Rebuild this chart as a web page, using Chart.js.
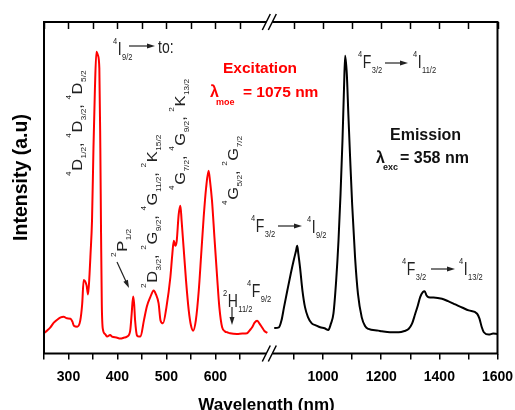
<!DOCTYPE html>
<html>
<head>
<meta charset="utf-8">
<script src="https://cdn.jsdelivr.net/npm/chart.js@4.4.0/dist/chart.umd.min.js"></script>
<style>
  html, body { margin: 0; padding: 0; background: #fff; }
</style>
</head>
<body>
<canvas id="myChart" width="515" height="410"></canvas>
<script>
// excitation spectrum, monitored at 1075 nm (red)
const exWave = [250, 257, 263, 270, 277, 284, 290, 297, 304, 308, 311, 318, 324, 328, 331, 337, 340, 343, 345, 348,
  351, 354, 357, 360, 363, 365, 366.5, 368, 370, 375, 379, 385, 389, 398, 406, 414, 420, 426, 429, 432,
  434, 436, 440, 444, 447, 454, 460, 467, 474, 478, 484, 488, 493, 500, 508, 512, 515, 518, 521, 525,
  528.5, 531, 535, 540, 545.5, 550, 554.5, 560, 566, 571, 576, 581, 586, 589, 593, 598, 603.5, 608, 613.7, 620,
  624, 630, 644, 655, 664.7, 670, 675, 680, 685, 690, 695, 700, 706];
const exInt = [6.1, 7.0, 7.9, 9.3, 10.2, 10.9, 11.1, 10.6, 10.5, 9.6, 8.4, 8.1, 9.9, 15, 22.2, 20.5, 17.8, 24, 30, 40,
  62, 80, 91, 90, 86, 62, 36, 15, 7.5, 5.8, 5.1, 5.6, 5.1, 4.8, 4.5, 4.8, 5.1, 6.9, 12, 17.2,
  15, 10, 5.4, 5.1, 5.1, 10, 14.2, 17, 19.0, 18, 15.1, 9.9, 9.1, 14, 23.0, 30, 34.0, 32.5, 34, 42,
  44.6, 40, 32.0, 22, 13.0, 8.5, 6.9, 10, 19.0, 30, 41.1, 50, 55.1, 52, 46.1, 35, 23.0, 14, 7.9, 6.6,
  6.4, 6.1, 5.9, 6.0, 6.1, 7, 7.9, 9.3, 9.9, 9, 7.9, 6.8, 6.2];

// emission spectrum, excited at 358 nm (black)
const emWave = [832, 848, 857, 865.5, 877, 888.6, 900, 907, 911, 915, 920.7, 929, 938, 948, 961, 975, 990, 1005, 1018, 1027,
  1035.6, 1045, 1053, 1060, 1066.7, 1072, 1075.9, 1081.7, 1087, 1093, 1100, 1110, 1120, 1133, 1145, 1156, 1190, 1202, 1230, 1260,
  1280, 1294, 1306, 1317, 1326, 1334, 1343, 1349.5, 1356, 1363, 1380, 1409, 1430, 1455, 1480, 1501, 1530, 1538, 1546, 1553,
  1570, 1585, 1599];
const emInt = [7.7, 7.9, 10, 13.9, 19, 24.0, 28.5, 31, 32.5, 30, 26.0, 19, 13.9, 11, 9.1, 8.5, 7.9, 7.6, 7.1, 9,
  12.0, 22, 34.0, 48, 64.2, 80, 89.8, 84.2, 72, 59.1, 45, 29.0, 18, 10.9, 8.2, 7.4, 6.9, 6.7, 6.4, 6.4,
  6.8, 7.4, 9, 12.0, 14.5, 17.0, 18.5, 18.8, 17.5, 17.0, 16.9, 16.5, 15.8, 14.8, 13.8, 13.0, 12.0, 10.5, 7.9, 6.4,
  5.7, 6.0, 5.9];

// broken wavelength axis: two ranges
const leftRange = [250, 710];
const rightRange = [815, 1600];

// transition labels: [superscript, letter, subscript]
const rotLabels = [
  {x: 82, y: 176, t: [['4', 'D', '1/2'], ', ', ['4', 'D', '3/2'], ', ', ['4', 'D', '5/2']]},
  {x: 127, y: 257, t: [['2', 'P', '1/2']]},
  {x: 157, y: 288, t: [['2', 'D', '3/2'], ', ', ['2', 'G', '9/2'], ', ', ['4', 'G', '11/2'], ', ', ['2', 'K', '15/2']]},
  {x: 185, y: 190, t: [['4', 'G', '7/2'], ', ', ['4', 'G', '9/2'], ', ', ['2', 'K', '13/2']]},
  {x: 238, y: 205, t: [['4', 'G', '5/2'], ', ', ['2', 'G', '7/2']]}
];
const hLabels = [
  {x: 113, y: 55, t: [['4', 'I', '9/2']]},
  {x: 158, y: 53, t: ['to:']},
  {x: 358, y: 68, t: [['4', 'F', '3/2']]},
  {x: 413, y: 68, t: [['4', 'I', '11/2']]},
  {x: 251, y: 232, t: [['4', 'F', '3/2']]},
  {x: 307, y: 233, t: [['4', 'I', '9/2']]},
  {x: 402, y: 275, t: [['4', 'F', '3/2']]},
  {x: 459, y: 275, t: [['4', 'I', '13/2']]},
  {x: 223, y: 307, t: [['2', 'H', '11/2']]},
  {x: 247, y: 297, t: [['4', 'F', '9/2']]}
];
const arrows = [[129, 46, 155, 46], [385, 63, 408, 63], [278, 226, 302, 226], [431, 269, 455, 269],
  [117, 262, 129, 288], [232, 307, 232, 325]];

const FONT = '"Liberation Sans", Arial, sans-serif';

function drawTerms(ctx, tokens, size, small, raise) {
  let x = 0;
  tokens.forEach(tk => {
    if (typeof tk === 'string') {
      ctx.font = size + 'px ' + FONT;
      ctx.fillText(tk, x, 0);
      x += ctx.measureText(tk).width;
      return;
    }
    ctx.font = small + 'px ' + FONT;
    ctx.fillText(tk[0], x, -size * raise);
    x += ctx.measureText(tk[0]).width + 0.5;
    ctx.font = size + 'px ' + FONT;
    ctx.fillText(tk[1], x, 0);
    x += ctx.measureText(tk[1]).width + 0.5;
    ctx.font = small + 'px ' + FONT;
    ctx.fillText(tk[2], x, size * 0.28);
    x += ctx.measureText(tk[2]).width;
  });
}

function arrow(ctx, x1, y1, x2, y2) {
  const a = Math.atan2(y2 - y1, x2 - x1);
  ctx.beginPath();
  ctx.moveTo(x1, y1);
  ctx.lineTo(x2 - 5 * Math.cos(a), y2 - 5 * Math.sin(a));
  ctx.stroke();
  ctx.beginPath();
  ctx.moveTo(x2, y2);
  ctx.lineTo(x2 - 8 * Math.cos(a) + 2.5 * Math.sin(a), y2 - 8 * Math.sin(a) - 2.5 * Math.cos(a));
  ctx.lineTo(x2 - 8 * Math.cos(a) - 2.5 * Math.sin(a), y2 - 8 * Math.sin(a) + 2.5 * Math.cos(a));
  ctx.closePath();
  ctx.fill();
}

function boldText(ctx, s, x, y, size, color) {
  ctx.font = 'bold ' + size + 'px ' + FONT;
  ctx.fillStyle = color;
  ctx.fillText(s, x, y);
}

const extras = {
  id: 'extras',
  afterDraw(chart) {
    const ctx = chart.ctx;
    const ca = chart.chartArea;
    ctx.save();
    // frame
    ctx.strokeStyle = '#000';
    ctx.lineWidth = 2;
    ctx.strokeRect(ca.left, ca.top, ca.right - ca.left, ca.bottom - ca.top);
    // inward ticks on the top edge
    ctx.lineWidth = 1.5;
    ['xL', 'xR'].forEach(id => {
      const s = chart.scales[id];
      s.ticks.forEach(t => {
        const px = Math.round(s.getPixelForValue(t.value)) + 0.5;
        ctx.beginPath();
        ctx.moveTo(px, ca.top);
        ctx.lineTo(px, ca.top + 7);
        ctx.stroke();
      });
    });
    // axis break marks
    const bx = chart.scales.xL.right;
    ctx.fillStyle = '#fff';
    [ca.top, ca.bottom].forEach(yy => {
      ctx.fillRect(bx - 3, yy - 3, 6, 6);
      ctx.beginPath();
      ctx.moveTo(bx - 7, yy + 8); ctx.lineTo(bx + 1, yy - 8);
      ctx.moveTo(bx - 1, yy + 8); ctx.lineTo(bx + 7, yy - 8);
      ctx.stroke();
    });

    // transition labels
    ctx.fillStyle = '#222';
    ctx.strokeStyle = '#222';
    ctx.textAlign = 'left';
    ctx.textBaseline = 'alphabetic';
    rotLabels.forEach(l => {
      ctx.save();
      ctx.translate(l.x, l.y);
      ctx.rotate(-Math.PI / 2);
      ctx.scale(1.1, 1);
      drawTerms(ctx, l.t, 15, 7.5, 0.72);
      ctx.restore();
    });
    hLabels.forEach(l => {
      ctx.save();
      ctx.translate(l.x, l.y);
      ctx.scale(1, 1.25);
      drawTerms(ctx, l.t, 14, 7.5, 0.62);
      ctx.restore();
    });
    ctx.lineWidth = 1.2;
    arrows.forEach(a => arrow(ctx, a[0], a[1], a[2], a[3]));

    // legends in the plot
    boldText(ctx, 'Excitation', 223, 73, 15.5, '#ff0000');
    boldText(ctx, 'λ', 210, 97, 16, '#ff0000');
    boldText(ctx, 'moe', 216, 105, 9, '#ff0000');
    boldText(ctx, '= 1075 nm', 243, 97, 15.5, '#ff0000');
    boldText(ctx, 'Emission', 390, 140, 16, '#111');
    boldText(ctx, 'λ', 376, 163, 16, '#111');
    boldText(ctx, 'exc', 383, 170, 9, '#111');
    boldText(ctx, '= 358 nm', 400, 163, 16, '#111');

    // axis titles
    ctx.textAlign = 'center';
    boldText(ctx, 'Wavelength (nm)', 266.5, 409.5, 17, '#000');
    ctx.translate(22, 177.5);
    ctx.rotate(-Math.PI / 2);
    ctx.textBaseline = 'middle';
    boldText(ctx, 'Intensity (a.u)', 0, 0, 19.5, '#000');
    ctx.restore();
  }
};

const tickFont = {family: FONT, size: 14, weight: 'bold'};
// keep Chart.js from reserving extra room for the edge labels
const fixBox = s => { s.height = 36.5; s.paddingLeft = 0; s.paddingRight = 0; };

const ctx = document.getElementById('myChart').getContext('2d');
const myChart = new Chart(ctx, {
  type: 'line',
  data: {
    datasets: [{
      label: 'Excitation',
      data: exWave.map((w, i) => ({x: w, y: exInt[i]})),
      xAxisID: 'xL',
      borderColor: '#ff0000',
      borderWidth: 2,
      pointRadius: 0,
      cubicInterpolationMode: 'monotone'
    }, {
      label: 'Emission',
      data: emWave.map((w, i) => ({x: w, y: emInt[i]})),
      xAxisID: 'xR',
      borderColor: '#000',
      borderWidth: 2,
      pointRadius: 0,
      cubicInterpolationMode: 'monotone'
    }]
  },
  options: {
    responsive: false,
    animation: false,
    devicePixelRatio: 1,
    layout: {padding: {left: 44, right: 17.5, top: 22, bottom: 20}},
    plugins: {legend: {display: false}, tooltip: {enabled: false}},
    scales: {
      xL: {
        type: 'linear', position: 'bottom', stack: 'wl', stackWeight: 225.4,
        min: leftRange[0], max: leftRange[1],
        afterFit: fixBox,
        afterBuildTicks: s => { s.ticks = s.ticks.filter(t => t.value < 700); },
        border: {display: false},
        grid: {drawOnChartArea: false, color: '#000', lineWidth: 1.5, tickLength: 6},
        ticks: {stepSize: 50, includeBounds: false, autoSkip: false, maxRotation: 0, padding: 9,
          color: '#000', font: tickFont, callback: v => (v % 100 === 0 ? v : '')}
      },
      xR: {
        type: 'linear', position: 'bottom', stack: 'wl', stackWeight: 228.3,
        min: rightRange[0], max: rightRange[1],
        afterFit: fixBox,
        border: {display: false},
        grid: {drawOnChartArea: false, color: '#000', lineWidth: 1.5, tickLength: 6},
        ticks: {stepSize: 100, includeBounds: false, autoSkip: false, maxRotation: 0, padding: 9,
          color: '#000', font: tickFont, callback: v => (v % 200 === 0 ? v : '')}
      },
      y: {display: false, min: 0, max: 100}
    }
  },
  plugins: [extras]
});
</script>
</body>
</html>
